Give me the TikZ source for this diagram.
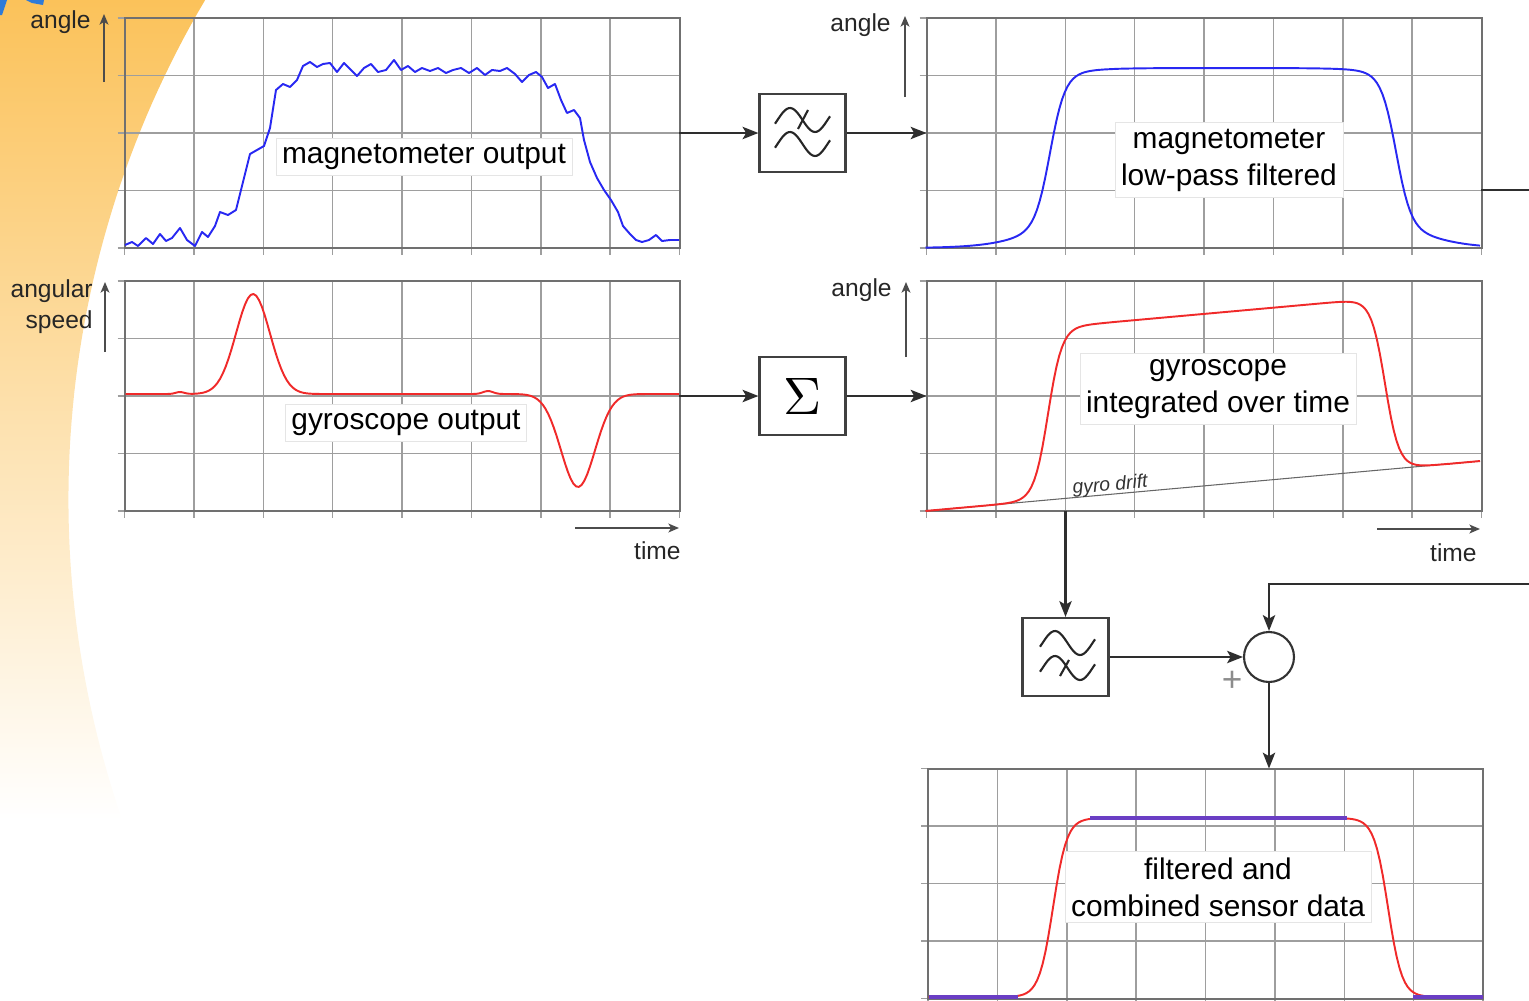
\documentclass[tikz,border=0pt]{standalone}
\usepackage{fontspec}
\setmainfont{Liberation Sans}
\usepackage{graphicx}
\usetikzlibrary{arrows.meta,positioning}
\definecolor{Ink}{HTML}{2E2E2E}
\definecolor{GridGray}{HTML}{9E9E9E}
\definecolor{FrameGray}{HTML}{707070}
\definecolor{MagBlue}{HTML}{2828F2}
\definecolor{GyroRed}{HTML}{F02A2A}
\definecolor{FusedPurple}{HTML}{6A3EC4}
\definecolor{Amber}{HTML}{FBC25A}
\definecolor{SlideBlue}{HTML}{2F7BD8}

% grid of one plot, hung from the north west corner of its node
\newcommand{\plotgrid}[1]{%
  \begin{scope}[shift={(#1.north west)}]
    \foreach \i in {1,...,7}
      \draw[gridline] (\i*69.375,0) -- (\i*69.375,230);
    \foreach \j in {1,2,3}
      \draw[gridline] (0,\j*57.5) -- (555,\j*57.5);
    \foreach \i in {0,...,8}
      \draw[gridline] (\i*69.375,230) -- (\i*69.375,237);
    \foreach \j in {0,...,4}
      \draw[gridline] (-7,\j*57.5) -- (0,\j*57.5);
    \draw[plotframe] (0,0) rectangle (555,230);
  \end{scope}}
% one period of the filter wave, #1 = left end, #2 = middle height
\newcommand{\wave}[2]{%
  \draw[wavepen] plot[domain=-18:378,samples=30,smooth]
    ({#1+(\x+18)*0.139},{#2-12*sin(\x)});}

\begin{document}
\begin{tikzpicture}[x=0.02cm,y=-0.02cm,
  declare function={sg(\u)=1/(1+exp(-max(-9,min(9,\u))));
                    gs(\u)=exp(-min(\u*\u,9));},
  plotarea/.style={minimum width=11.1cm,minimum height=4.6cm,inner sep=0pt,outer sep=0pt},
  gridline/.style={draw=GridGray,line width=.85pt},
  plotframe/.style={draw=FrameGray,line width=1.15pt},
  box/.style={draw=black!75,line width=1.2pt,fill=white,
    minimum width=1.72cm,minimum height=1.56cm,inner sep=0pt},
  junction/.style={circle,draw=black!80,line width=1.2pt,fill=white,minimum size=1cm,inner sep=0pt},
  arrow/.style={-{Stealth[length=9pt,width=7pt,inset=2pt]},line width=1.3pt,draw=Ink},
  link/.style={line width=1.3pt,draw=Ink},
  axisarrow/.style={-{Stealth[length=6pt,width=5pt,inset=1.5pt]},line width=1.2pt,draw=black!70},
  tag/.style={fill=white,draw=black!10,align=center,inner sep=.12cm,
    font=\fontsize{17}{21}\selectfont},
  axislabel/.style={inner sep=0pt,text=black!85,font=\fontsize{14}{17.6}\selectfont},
  wavepen/.style={draw=black!85,line width=1.2pt},
  curve/.style={line width=1.1pt,line join=round},
  driftpen/.style={draw=black!60,line width=.6pt},
  fusedpen/.style={draw=FusedPurple,line width=1.8pt}]
\useasboundingbox (0,0) rectangle (1529,1001);

% slide background
\shade[top color=Amber,bottom color=white]
  (205,0) -- plot[domain=210.6:161,samples=60] ({1049.4+981*cos(\x)},{499.5+981*sin(\x)})
  -- (0,820) -- (0,0) -- cycle;
\fill[SlideBlue] (0,0) -- (7,0) -- (2,15) -- (0,15) -- cycle;
\fill[SlideBlue] (26,0) -- (44,0) -- (43,5) -- (32,3) -- cycle;

% plots and blocks
\node[plotarea](mag) at (402,133) {};
\node[box,right=1.58cm of mag](lp1) {};
\node[plotarea,right=1.6cm of lp1](magf) {};
\node[plotarea](gyro) at (402,396) {};
\node[box,right=1.58cm of gyro](sum) {\scalebox{3}{$\Sigma$}};
\node[plotarea,right=1.6cm of sum](gint) {};
\node[box](lp2) at (1065.5,657) {};
\node[junction](add) at (1269,657) {};
\node[plotarea](comb) at (1205.5,883.5) {};

\plotgrid{mag}
\plotgrid{magf}
\plotgrid{gyro}
\plotgrid{gint}
\plotgrid{comb}

% curves
\draw[curve,MagBlue] plot coordinates {(125,245) (132,242) (138,246) (146,238) (153,244)
  (160,234) (166,241) (172,238) (180,228) (187,240) (195,246) (202,232) (208,237) (215,226)
  (220,212) (228,215) (236,210) (244,178) (250,154) (257,150) (264,146) (270,128) (276,90)
  (283,84) (290,87) (297,80) (303,66) (310,62) (317,67) (323,64) (330,63) (337,72) (344,63)
  (351,70) (357,76) (364,68) (371,64) (378,72) (386,70) (394,60) (401,70) (408,66) (415,72)
  (422,68) (430,71) (438,68) (446,73) (453,70) (461,68) (469,73) (477,68) (485,75) (492,70)
  (500,71) (507,68) (515,74) (522,82) (529,75) (536,72) (542,77) (548,88) (555,84) (561,100)
  (567,113) (574,110) (580,118) (584,140) (590,162) (597,178) (604,190) (611,200) (618,212)
  (623,226) (630,234) (636,240) (642,242) (649,240) (656,235) (662,241) (670,240) (679,240)};
\draw[curve,MagBlue] plot[domain=925.5:1480,samples=200]
  (\x,{248-180*(0.85*sg((\x-1050)/7.5)+0.15*sg((\x-1030)/25)-0.85*sg((\x-1396)/7.5)-0.15*sg((\x-1422)/25))});
\draw[curve,GyroRed] plot[domain=125.5:679,samples=200]
  (\x,{394-100*gs((\x-253)/24)+93*gs((\x-578)/24)-2*gs((\x-180)/6)-3*gs((\x-488)/7)});
\draw[driftpen] (925.5,511) -- (1480,461);
\draw[curve,GyroRed] plot[domain=925.5:1480,samples=200]
  (\x,{511-0.09*(\x-925)-172*(sg((\x-1048)/7)-sg((\x-1385)/7))});
\draw[curve,GyroRed] plot[domain=928.5:1483,samples=200]
  (\x,{997-179*(sg((\x-1053)/7)-sg((\x-1388)/7))});
\draw[fusedpen] (928.5,997) -- (1018,997) (1090,818) -- (1347,818) (1413,997) -- (1483,997);

% captions
\node[tag](magtag) at (424,157) {magnetometer output};
\node[tag](magftag) at (1229,160) {magnetometer\\low-pass filtered};
\node[tag](gyrotag) at (406,423) {gyroscope output};
\node[tag](ginttag) at (1218,389) {gyroscope\\integrated over time};
\node[tag](combtag) at (1218,887) {filtered and\\combined sensor data};
\node[inner sep=0pt,anchor=south,rotate=5,text=black!80,
  font=\fontsize{11}{11}\selectfont\itshape](drift) at (1111,495) {gyro drift};

% filter symbols
\wave{775}{120} \wave{775}{144}
\draw[wavepen] (798,129) -- (808,110);
\wave{1040}{643} \wave{1040}{668}
\draw[wavepen] (1060,676) -- (1069,660);
\node[inner sep=0pt,text=black!45,font=\fontsize{20}{20}\selectfont](plus) at (1232,681) {+};

% signal flow
\draw[arrow](mag)--(lp1);
\draw[arrow](lp1)--(magf);
\draw[arrow](gyro)--(sum);
\draw[arrow](sum)--(gint);
\draw[arrow](gint.south -| lp2)--(lp2);
\draw[arrow](lp2)--(add);
\draw[arrow](add)--(add |- comb.north);
\coordinate(outA) at (1529,190);
\coordinate(outB) at (1529,584);
\draw[link](magf.east |- outA)--(outA);
\draw[arrow](outB) -| (add);

% axes
\node[axislabel,anchor=east](yA) at (91,22) {angle};
\draw[axisarrow](104,82)--(104,14);
\node[axislabel,anchor=east](yB) at (891,25) {angle};
\draw[axisarrow](905,97)--(905,16);
\node[axislabel,anchor=east,align=right](yC) at (93,307) {angular\\speed};
\draw[axisarrow](105,352)--(105,282);
\node[axislabel,anchor=east](yD) at (892,290) {angle};
\draw[axisarrow](906,357)--(906,282);
\draw[axisarrow](575,528)--(679,528);
\node[axislabel,anchor=east](xA) at (681,551) {time};
\draw[axisarrow](1377,529)--(1480,529);
\node[axislabel,anchor=east](xB) at (1477,553) {time};
\end{tikzpicture}
\end{document}
